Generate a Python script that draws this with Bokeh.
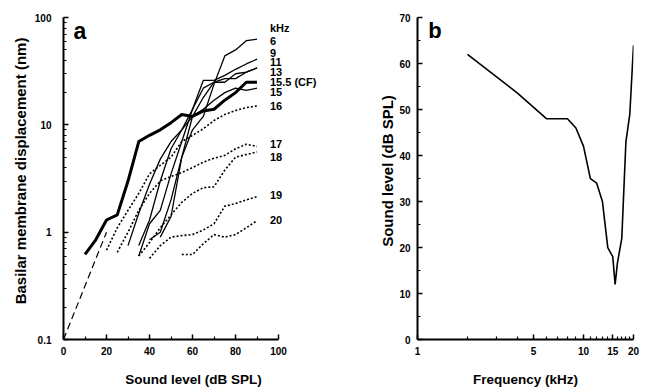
from bokeh.plotting import figure
from bokeh.layouts import row
from bokeh.models import FixedTicker, CustomJSTickFormatter, Label, Range1d
from bokeh.embed import file_html
from bokeh.resources import INLINE

# ---------------- Panel a data: displacement (nm) vs sound level (dB SPL)
lvl_6 = [40, 45, 50, 55, 60, 65, 70, 75, 80, 85, 90]
nm_6 = [0.85, 1.0, 2.0, 5.0, 9.0, 12, 24, 44, 50, 61, 63]
lvl_9 = [35, 40, 45, 50, 55, 60, 65, 70, 75, 80, 85, 90]
nm_9 = [0.6, 1.2, 1.6, 3.5, 7.0, 14, 26, 26, 29, 33, 37, 41]
lvl_11 = [45, 50, 55, 60, 65, 70, 75, 80, 85, 90]
nm_11 = [0.9, 1.4, 5.0, 12, 18, 25, 25, 30, 31, 34]
lvl_13 = [35, 40, 45, 50, 55, 60, 65, 70, 75, 80, 85, 90]
nm_13 = [0.75, 1.3, 3.0, 6.0, 9.0, 14, 22, 25, 27, 27, 31, 34]
lvl_15 = [30, 35, 40, 45, 50, 55, 60, 65, 70, 75, 80, 85, 90]
nm_15 = [0.75, 1.5, 2.8, 4.8, 7.0, 9.0, 12, 14, 17, 20, 22, 21, 22]
lvl_cf = [10, 15, 20, 25, 30, 35, 40, 45, 50, 55, 60, 65, 70, 75, 80, 85, 90]
nm_cf = [0.62, 0.85, 1.3, 1.45, 3.0, 7.0, 8.0, 9.0, 10.5, 12.5, 12, 13.5, 14, 17, 20, 25, 25]
lvl_16 = [20, 25, 30, 35, 40, 45, 50, 55, 60, 65, 70, 75, 80, 85, 90]
nm_16 = [0.68, 1.1, 1.6, 2.3, 3.5, 4.2, 5.0, 7.0, 8.0, 9.2, 11, 12.5, 13.6, 14.5, 15]
lvl_17 = [25, 30, 35, 40, 45, 50, 55, 60, 65, 70, 75, 80, 85, 90]
nm_17 = [0.65, 1.0, 1.6, 2.3, 3.0, 3.3, 3.6, 4.0, 4.5, 4.9, 5.2, 6.0, 6.6, 6.3]
lvl_18 = [35, 40, 45, 50, 55, 60, 65, 70, 75, 80, 85, 90]
nm_18 = [0.6, 0.8, 1.1, 1.45, 1.9, 2.3, 2.6, 2.65, 3.8, 5.0, 5.3, 5.6]
lvl_19 = [40, 45, 50, 55, 60, 65, 70, 75, 80, 85, 90]
nm_19 = [0.57, 0.75, 0.9, 0.93, 0.95, 1.05, 1.2, 1.75, 1.85, 2.0, 2.15]
lvl_20 = [55, 60, 65, 70, 75, 80, 85, 90]
nm_20 = [0.62, 0.62, 0.78, 0.95, 0.9, 0.95, 1.1, 1.28]
lvl_lin = [0, 20]
nm_lin = [0.1, 1.0]

curve_labels = ["kHz", "6", "9", "11", "13", "15.5 (CF)", "15", "16", "17", "18", "19", "20"]
label_nm = [80, 61, 47, 38.8, 31.4, 25.3, 20.4, 15.1, 6.6, 5.0, 2.2, 1.29]
label_lvl = 96

xa_ticks = [0, 20, 40, 60, 80, 100]
xa_minor = [10, 30, 50, 70, 90]
ya_ticks = [0.1, 1, 10, 100]
ya_minor = [m * d for d in (0.1, 1, 10) for m in range(2, 10)]

# ---------------- Panel b data: threshold curve
freq_khz = [2, 4, 6, 8, 9, 10, 11, 12, 13, 14, 15, 15.5, 16, 17, 18, 19, 20]
thresh_db = [62, 53.6, 48, 48, 46, 42, 35, 34, 30, 20, 18, 12, 16.6, 22, 43, 49, 64]

xb_ticks = [1, 5, 10, 15, 20]
xb_minor = [2, 3, 4, 6, 7, 8, 9, 11, 12, 13, 14, 16, 17, 18, 19]
yb_ticks = [0, 10, 20, 30, 40, 50, 60, 70]
yb_minor = [5, 15, 25, 35, 45, 55, 65]

FONT = "Liberation Sans"
fmt = CustomJSTickFormatter(code="return String(tick);")


def style_axes(p):
    p.outline_line_color = None
    p.xgrid.visible = False
    p.ygrid.visible = False
    p.background_fill_color = "white"
    p.border_fill_color = "white"
    for ax in (p.xaxis[0], p.yaxis[0]):
        ax.axis_line_width = 2
        ax.axis_line_color = "black"
        ax.major_tick_in = 5
        ax.major_tick_out = 0
        ax.minor_tick_in = 3
        ax.minor_tick_out = 0
        ax.major_tick_line_width = 1.5
        ax.minor_tick_line_width = 1.2
        ax.major_label_text_font = FONT
        ax.major_label_text_font_style = "bold"
        ax.major_label_text_font_size = "10px"
        ax.major_label_text_color = "black"
        ax.axis_label_text_font = FONT
        ax.axis_label_text_font_style = "bold"
        ax.axis_label_text_color = "black"
        ax.formatter = fmt
    p.xaxis[0].axis_label_text_font_size = "13.5px"
    p.yaxis[0].axis_label_text_font_size = "15px"
    p.xaxis[0].major_label_standoff = 7
    p.xaxis[0].axis_label_standoff = 14


# ---------------- Panel a  (frame extended right/up for labels; axes bounded)
pa = figure(width=325, height=389, x_range=Range1d(0, 120.9), y_range=Range1d(0.1, 138.4),
            y_axis_type="log", output_backend="svg", toolbar_location=None,
            min_border_left=63, min_border_right=2, min_border_top=2, min_border_bottom=49)
style_axes(pa)
pa.xaxis[0].bounds = (0, 100)
pa.yaxis[0].bounds = (0.1, 100)
pa.xaxis[0].ticker = FixedTicker(ticks=xa_ticks, minor_ticks=xa_minor)
pa.yaxis[0].ticker = FixedTicker(ticks=ya_ticks, minor_ticks=ya_minor)
pa.xaxis[0].axis_label = "Sound level (dB SPL)"
pa.yaxis[0].axis_label = "Basilar membrane displacement (nm)"
pa.yaxis[0].major_label_standoff = 12
pa.yaxis[0].axis_label_standoff = 3

dot = dict(line_color="black", line_width=1.6, line_dash="2 2")
for xs, ys in ((lvl_16, nm_16), (lvl_17, nm_17), (lvl_18, nm_18), (lvl_19, nm_19), (lvl_20, nm_20)):
    pa.line(xs, ys, **dot)
for xs, ys in ((lvl_6, nm_6), (lvl_9, nm_9), (lvl_11, nm_11), (lvl_13, nm_13), (lvl_15, nm_15)):
    pa.line(xs, ys, line_color="black", line_width=1.3)
pa.line(lvl_cf, nm_cf, line_color="black", line_width=3, line_join="round")
pa.line(lvl_lin, nm_lin, line_color="black", line_width=1.2, line_dash="7 4")

for txt, yv in zip(curve_labels, label_nm):
    pa.add_layout(Label(x=label_lvl, y=yv, text=txt, text_font=FONT, text_font_style="bold",
                        text_font_size="11px", text_baseline="middle", text_align="left",
                        text_color="black"))
pa.add_layout(Label(x=4.6, y=75, text="a", text_font=FONT, text_font_style="bold",
                    text_font_size="23px", text_baseline="alphabetic", text_color="black"))

# ---------------- Panel b
pb = figure(width=325, height=389, x_range=Range1d(1, 20), y_range=Range1d(0, 73.3),
            x_axis_type="log", output_backend="svg", toolbar_location=None,
            min_border_left=92, min_border_right=17, min_border_top=2, min_border_bottom=49)
style_axes(pb)
pb.yaxis[0].bounds = (0, 70)
pb.xaxis[0].ticker = FixedTicker(ticks=xb_ticks, minor_ticks=xb_minor)
pb.yaxis[0].ticker = FixedTicker(ticks=yb_ticks, minor_ticks=yb_minor)
pb.xaxis[0].axis_label = "Frequency (kHz)"
pb.yaxis[0].axis_label = "Sound level (dB SPL)"
pb.yaxis[0].major_label_standoff = 7
pb.yaxis[0].axis_label_standoff = 0
pb.line(freq_khz, thresh_db, line_color="black", line_width=1.6)
pb.add_layout(Label(x=1.16, y=67.2, text="b", text_font=FONT, text_font_style="bold",
                    text_font_size="22px", text_baseline="alphabetic", text_color="black"))

layout = row(pa, pb)
open("out.html", "w").write(file_html(layout, INLINE))
